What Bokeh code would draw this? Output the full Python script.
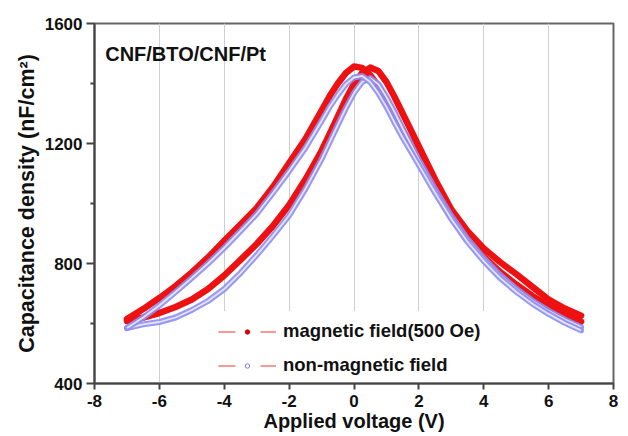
from bokeh.plotting import figure
from bokeh.models import (Legend, LegendItem, Label, FixedTicker, Range1d, BoxAnnotation,
                          PrintfTickFormatter)
from bokeh.embed import file_html
from bokeh.resources import INLINE

# ---- data ----
voltage = [-7, -6.5, -6, -5.5, -5, -4.5, -4, -3.5, -3, -2.5, -2, -1.5, -1.25, -1, -0.75,
           -0.5, -0.25, 0, 0.25, 0.5, 0.75, 1, 1.25, 1.5, 2, 2.5, 3, 3.5, 4, 4.5, 5,
           5.5, 6, 6.5, 7]
# magnetic field (500 Oe): forward sweep (-7 -> 7) and reverse sweep (7 -> -7)
mag_fwd = [608, 620, 635, 655, 680, 715, 760, 812, 865, 925, 995, 1080, 1127, 1176, 1232,
           1290, 1348, 1398, 1435, 1453, 1442, 1405, 1355, 1300, 1190, 1080, 980, 908, 850,
           805, 765, 722, 680, 650, 626]
mag_rev = [615, 648, 685, 725, 770, 820, 876, 930, 985, 1055, 1135, 1215, 1262, 1310, 1358,
           1400, 1435, 1457, 1452, 1428, 1392, 1345, 1295, 1245, 1148, 1050, 960, 885, 822,
           772, 730, 692, 658, 630, 606]
# non-magnetic field
non_fwd = [585, 597, 605, 620, 645, 675, 715, 768, 828, 892, 960, 1048, 1098, 1148, 1205,
           1262, 1318, 1368, 1405, 1418, 1398, 1355, 1305, 1250, 1145, 1048, 958, 882, 818,
           762, 716, 676, 642, 613, 588]
non_rev = [585, 620, 660, 705, 752, 800, 852, 908, 965, 1035, 1108, 1185, 1230, 1275, 1322,
           1362, 1398, 1420, 1425, 1405, 1368, 1322, 1270, 1220, 1128, 1035, 948, 872, 808,
           752, 706, 666, 632, 602, 577]

x_ticks = [-8, -6, -4, -2, 0, 2, 4, 6, 8]
y_ticks = [400, 800, 1200, 1600]
y_minor = [600, 1000, 1400]
legend_labels = ["magnetic field(500 Oe)", "non-magnetic field"]
title_text = "CNF/BTO/CNF/Pt"

FONT = "Liberation Sans"
AXC = "#444444"
NAN = float("nan")

p = figure(width=628, height=436, x_range=Range1d(-8, 8), y_range=Range1d(400, 1600),
           output_backend="svg", toolbar_location=None,
           min_border_left=94, min_border_right=15, min_border_top=23, min_border_bottom=53)

p.background_fill_color = "white"
p.border_fill_color = "white"
p.outline_line_color = "#666666"
p.outline_line_width = 2

# grid: vertical only
p.xgrid.ticker = FixedTicker(ticks=x_ticks)
p.xgrid.grid_line_color = "#cfcfcf"
p.xgrid.grid_line_width = 1
p.ygrid.grid_line_color = None

# white region behind the legend (hides grid there)
p.add_layout(BoxAnnotation(left=-5.6, right=6.6, bottom=404, top=642,
                           fill_color="white", fill_alpha=1.0, line_color=None,
                           level="underlay"))

# axes
p.xaxis.ticker = FixedTicker(ticks=x_ticks)
p.yaxis.ticker = FixedTicker(ticks=y_ticks, minor_ticks=y_minor)
p.xaxis.formatter = PrintfTickFormatter(format="%d")
p.yaxis.formatter = PrintfTickFormatter(format="%d")
for ax in (p.xaxis[0], p.yaxis[0]):
    ax.axis_line_color = AXC
    ax.axis_line_width = 2
    ax.major_tick_line_color = AXC
    ax.major_tick_line_width = 2
    ax.minor_tick_line_color = AXC
    ax.minor_tick_line_width = 2
    ax.major_tick_in = 0
    ax.minor_tick_in = 0
    ax.major_label_text_font = FONT
    ax.major_label_text_font_style = "bold"
    ax.major_label_text_font_size = "17px"
    ax.major_label_text_color = "#111111"
    ax.axis_label_text_font = FONT
    ax.axis_label_text_font_style = "bold"
    ax.axis_label_text_color = "#111111"

p.xaxis.axis_label_text_font_size = "20px"
p.yaxis.axis_label_text_font_size = "21.5px"
p.xaxis.major_tick_out = 6
p.xaxis.minor_tick_out = 0
p.xaxis.major_label_standoff = 5
p.xaxis.axis_label_standoff = 0
p.yaxis.major_tick_out = 8
p.yaxis.minor_tick_out = 4
p.yaxis.major_label_standoff = 4
p.yaxis.axis_label_standoff = 3
p.xaxis.axis_label = "Applied voltage (V)"
p.yaxis.axis_label = "Capacitance density (nF/cm\u00b2)"

# curves
RED = "#ee1111"
for ys in (mag_fwd, mag_rev):
    p.line(voltage, ys, line_color=RED, line_width=6.5, line_join="round", line_cap="round")
for ys in (non_fwd, non_rev):
    p.line(voltage, ys, line_color="#8e8ef2", line_width=6, line_alpha=0.9,
           line_join="round", line_cap="round")
    p.line(voltage, ys, line_color="#e4e4fc", line_width=1.8, line_join="round")

# legend glyph renderers (a single NaN point, so nothing is drawn in the plot)
l1 = p.line(x=[NAN], y=[NAN], line_color="#f27878", line_width=1.3, line_dash="17 25")
s1 = p.scatter(x=[NAN], y=[NAN], marker="circle", size=3, fill_color="#dd0000",
               line_color="#dd0000")
l2 = p.line(x=[NAN], y=[NAN], line_color="#f27878", line_width=1.3, line_dash="17 25")
s2 = p.scatter(x=[NAN], y=[NAN], marker="circle", size=4, fill_color="white",
               line_color="#8080f0", line_width=1)
legend = Legend(items=[LegendItem(label=legend_labels[0], renderers=[l1, s1]),
                       LegendItem(label=legend_labels[1], renderers=[l2, s2])],
                location=(124, 7), glyph_width=58, glyph_height=11, label_height=20,
                spacing=12, padding=10, margin=0, label_standoff=7,
                background_fill_color="white", background_fill_alpha=1.0,
                border_line_color=None,
                label_text_font=FONT, label_text_font_style="bold",
                label_text_font_size="18.5px", label_text_color="#111111")
p.add_layout(legend)

p.add_layout(Label(x=-7.67, y=1498, text=title_text, text_font=FONT,
                   text_font_style="bold", text_font_size="20px", text_color="#111111",
                   text_baseline="alphabetic"))

open("out.html", "w").write(file_html(p, INLINE))
